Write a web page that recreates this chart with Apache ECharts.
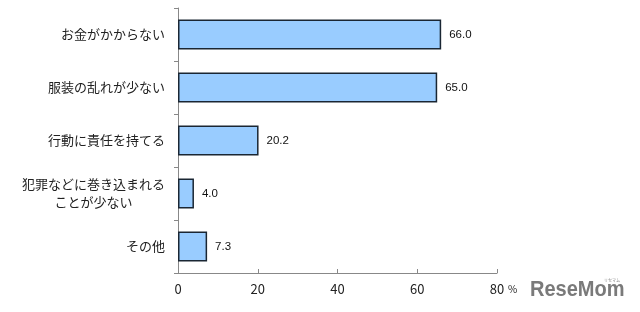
<!DOCTYPE html>
<html><head><meta charset="utf-8">
<script src="https://cdn.jsdelivr.net/npm/echarts@6/dist/echarts.min.js"></script>
<style>html,body{margin:0;padding:0;background:#fff}#c{width:640px;height:312px}</style>
</head><body><div id="c"></div>
<script>
const categories = ['お金がかからない', '服装の乱れが少ない', '行動に責任を持てる', '犯罪などに巻き込まれる\nことが少ない', 'その他'];
const values = [66.0, 65.0, 20.2, 4.0, 7.3];
const xTicks = [0, 20, 40, 60, 80];

const chart = echarts.init(document.getElementById('c'), null, {renderer: 'canvas'});
const jp = '"Noto Sans CJK JP", sans-serif';
chart.setOption({
  animation: false,
  backgroundColor: '#fff',
  grid: {left: 178, right: 143, top: 8, bottom: 39, containLabel: false},
  xAxis: {
    type: 'value', min: 0, max: 80, interval: 20,
    axisLine: {show: true, lineStyle: {color: '#888', width: 1}},
    axisTick: {show: true, inside: true, length: 4, lineStyle: {color: '#888'}},
    splitLine: {show: false},
    axisLabel: {
      margin: 10, fontSize: 13, color: '#222', fontFamily: jp,
      formatter: v => xTicks.includes(v) ? String(v) : ''
    }
  },
  yAxis: {
    type: 'category', data: categories, inverse: true,
    axisLine: {show: true, lineStyle: {color: '#888', width: 1}},
    axisTick: {show: true, length: 4, lineStyle: {color: '#888'}},
    axisLabel: {
      margin: 13, fontSize: 13, color: '#222', fontFamily: jp, lineHeight: 18,
      formatter: v => v.includes('\n') ? v.split('\n').map(s => '{c|' + s + '}').join('\n') : v,
      rich: {c: {width: 143, align: 'center', fontSize: 13, lineHeight: 18, color: '#222', fontFamily: jp}}
    }
  },
  series: [{
    type: 'bar', data: values, barCategoryGap: '43%',
    itemStyle: {color: '#99ccff', borderColor: '#1a2633', borderWidth: 1.5},
    label: {
      show: true, position: 'right', distance: 8,
      formatter: p => p.value.toFixed(1),
      fontSize: 11.5, color: '#111', fontFamily: '"Liberation Sans", Arial, sans-serif'
    }
  }],
  graphic: [
    {type: 'text', x: 508, y: 284, style: {text: '%', fontSize: 10, fill: '#222', fontFamily: jp}},
    {type: 'text', x: 530, y: 279, scaleX: 0.91, style: {text: 'ReseMom', fontSize: 22, fontWeight: 'bold', fill: '#7a7a7a', fontFamily: '"Liberation Sans", Arial, sans-serif'}},
    {type: 'text', x: 604, y: 278, style: {text: 'リセマム', fontSize: 4, fill: '#888', fontFamily: jp}}
  ]
});
</script></body></html>
